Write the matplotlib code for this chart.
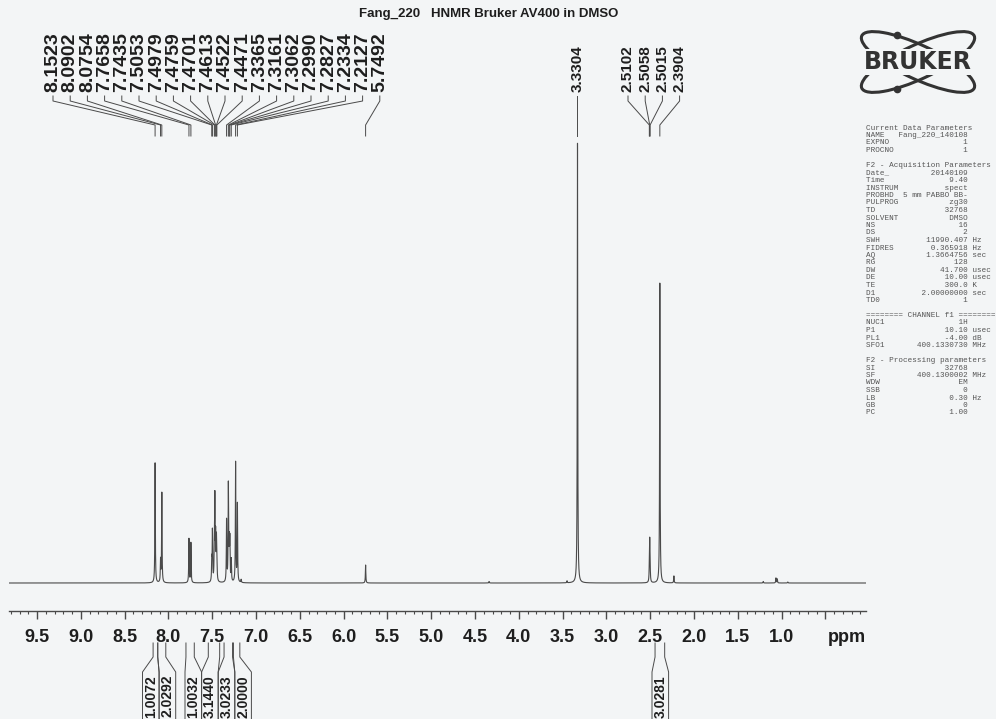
import numpy as np
import matplotlib.pyplot as plt
from matplotlib.ticker import MultipleLocator, FuncFormatter
from matplotlib.patches import Ellipse

plt.rcParams['font.family'] = ['Liberation Sans', 'DejaVu Sans']
plt.rcParams['font.weight'] = 'bold'

W, H = 996, 719
title = "Fang_220   HNMR Bruker AV400 in DMSO"

# picked peaks (ppm) and their heights above the baseline (px)
peak_ppm = [8.1523, 8.0902, 8.0754, 7.7658, 7.7435, 7.5053, 7.4979, 7.4759,
            7.4701, 7.4613, 7.4522, 7.4471, 7.3365, 7.3161, 7.3062, 7.2990,
            7.2827, 7.2334, 7.2127, 5.7492, 3.3304, 2.5102, 2.5058, 2.5015,
            2.3904]
peak_h = [120, 22, 90, 44, 40, 20, 50, 38,
          78, 42, 38, 22, 62, 96, 36, 40,
          22, 120, 78, 18, 440, 12, 38, 12,
          300]
# small bumps that are not labelled
minor_ppm = [7.17, 4.34, 3.45, 2.23, 1.21, 1.065, 1.05, 0.93]
minor_h = [3, 1.5, 2, 7, 1.5, 5, 4, 1]

# peak label groups (indices into peak_ppm)
label_groups = [list(range(0, 20)), [20], [21, 22, 23, 24]]
label_start_px = [53, None, 628]   # None -> label sits above its own peak
label_size = [14, 11, 11]
label_step_px = 17.2

# integrals
int_values = ['1.0072', '2.0292', '1.0032', '3.1440', '3.0233', '2.0000', '3.0281']
int_from = [8.175, 8.122, 7.800, 7.545, 7.365, 7.258, 2.445]
int_to = [8.122, 8.030, 7.705, 7.415, 7.268, 7.185, 2.335]
int_groups = [[0, 1], [2, 3, 4, 5], [6]]
int_box_start_px = [142.5, 185, 652]
int_box_w = 16.6

# parameter listing
params_current = [("NAME", "Fang_220_140108", ""), ("EXPNO", "1", ""), ("PROCNO", "1", "")]
params_acq = [("Date_", "20140109", ""), ("Time", "9.40", ""), ("INSTRUM", "spect", ""),
              ("PROBHD", "5 mm PABBO BB-", ""), ("PULPROG", "zg30", ""), ("TD", "32768", ""),
              ("SOLVENT", "DMSO", ""), ("NS", "16", ""), ("DS", "2", ""),
              ("SWH", "11990.407", "Hz"), ("FIDRES", "0.365918", "Hz"),
              ("AQ", "1.3664756", "sec"), ("RG", "128", ""), ("DW", "41.700", "usec"),
              ("DE", "10.00", "usec"), ("TE", "300.0", "K"), ("D1", "2.00000000", "sec"),
              ("TD0", "1", "")]
params_chan = [("NUC1", "1H", ""), ("P1", "10.10", "usec"), ("PL1", "-4.00", "dB"),
               ("SFO1", "400.1330730", "MHz")]
params_proc = [("SI", "32768", ""), ("SF", "400.1300002", "MHz"), ("WDW", "EM", ""),
               ("SSB", "0", ""), ("LB", "0.30", "Hz"), ("GB", "0", ""), ("PC", "1.00", "")]

bg = '#f3f5f6'
ink = '#1e1e1e'
line_c = '#4a4a4a'

fig = plt.figure(figsize=(W / 100, H / 100), dpi=100, facecolor=bg)

# main axes: x in ppm, y in pixels from the bottom
ax = fig.add_axes([9 / W, 0, 857 / W, 1])
ax.set_facecolor(bg)
ppm_l = 9.82
ppm_r = ppm_l - 857 / 87.6
ax.set_xlim(ppm_l, ppm_r)
ax.set_ylim(0, H)
base = H - 583

x = np.linspace(ppm_l, ppm_r, 30000)
w = 0.003
y = np.zeros_like(x)
for p, h in zip(peak_ppm + minor_ppm, peak_h + minor_h):
    y += h * w**2 / ((x - p)**2 + w**2)
ax.plot(x, base + y, color=line_c, lw=0.8)

# ppm scale
for s in ['top', 'left', 'right']:
    ax.spines[s].set_visible(False)
ax.spines['bottom'].set_position(('data', H - 611))
ax.spines['bottom'].set_color(line_c)
ax.spines['bottom'].set_linewidth(1.0)
ax.set_yticks([])
ax.xaxis.set_major_locator(MultipleLocator(0.5))
ax.xaxis.set_minor_locator(MultipleLocator(0.1))
ax.xaxis.set_major_formatter(FuncFormatter(lambda v, pos: f"{v:.1f}" if v > 0.9 else ""))
ax.tick_params(axis='x', which='major', direction='out', length=6, width=1,
               color=line_c, labelsize=13, labelcolor=ink, pad=7)
ax.tick_params(axis='x', which='minor', direction='out', length=2.2, width=0.8, color=line_c)
fig.text(847 / W, 1 - 637 / H, "ppm", ha='center', va='center', fontsize=13, color=ink)

inv = ax.transData.inverted()


def px2ppm(px):
    return inv.transform((px, 0))[0]


# peak labels with the elbow connectors
for grp, start, fs in zip(label_groups, label_start_px, label_size):
    for j, idx in enumerate(grp):
        p = peak_ppm[idx]
        if start is None:
            lx = p
        else:
            lx = px2ppm(start + j * label_step_px)
        ax.text(lx, H - 92, f"{p:.4f}", rotation=90, ha='center', va='bottom',
                fontsize=fs, color=ink)
        ax.plot([lx, lx, p, p], [H - 96, H - 101, H - 125, H - 136],
                color=line_c, lw=0.7, clip_on=False)

# integrals
for grp, start in zip(int_groups, int_box_start_px):
    for j, idx in enumerate(grp):
        bl = px2ppm(start + j * int_box_w)
        br = px2ppm(start + (j + 1) * int_box_w)
        ax.plot([int_from[idx]] * 2 + [bl, bl], [H - 643, H - 657, H - 672, -30],
                color=line_c, lw=0.7, clip_on=False)
        ax.plot([int_to[idx]] * 2 + [br, br], [H - 643, H - 657, H - 672, -30],
                color=line_c, lw=0.7, clip_on=False)
        ax.text(px2ppm(start + (j + 0.5) * int_box_w), H - 675, int_values[idx],
                rotation=90, ha='center', va='top', fontsize=10, color=ink)

fig.text(489 / W, 1 - 14 / H, title, ha='center', va='center', fontsize=9.5, color=ink)

# parameter listing
rows = ["Current Data Parameters"]
rows += [f"{n:<7}{v:>15}" + (f" {u}" if u else "") for n, v, u in params_current]
rows += ["", "F2 - Acquisition Parameters"]
rows += [f"{n:<7}{v:>15}" + (f" {u}" if u else "") for n, v, u in params_acq]
rows += ["", "======== CHANNEL f1 ========"]
rows += [f"{n:<7}{v:>15}" + (f" {u}" if u else "") for n, v, u in params_chan]
rows += ["", "F2 - Processing parameters"]
rows += [f"{n:<7}{v:>15}" + (f" {u}" if u else "") for n, v, u in params_proc]
for i, r in enumerate(rows):
    fig.text(866 / W, 1 - (128 + 7.5 * i) / H, r, ha='left', va='center',
             family='Liberation Mono', fontweight='normal', fontsize=5.5, color='#555555')

# Bruker logo
lg = fig.add_axes([(918 - 70) / W, 1 - (62 + 37) / H, 140 / W, 74 / H])
lg.set_xlim(-70, 70)
lg.set_ylim(-37, 37)
lg.axis('off')
for ang in (25, -25):
    lg.add_patch(Ellipse((0, 0), 124, 34, angle=ang, fill=False, lw=2.2, color='#333333'))
lg.plot([-21, -21], [27, -27], 'o', color='#333333', ms=4.5)
lg.text(0, 0, "BRUKER", ha='center', va='center', fontsize=17, family='DejaVu Sans',
        fontweight='bold', color='#333333',
        bbox=dict(facecolor=bg, edgecolor='none', pad=0.5))

fig.savefig('out.png', dpi=100, facecolor=bg)
